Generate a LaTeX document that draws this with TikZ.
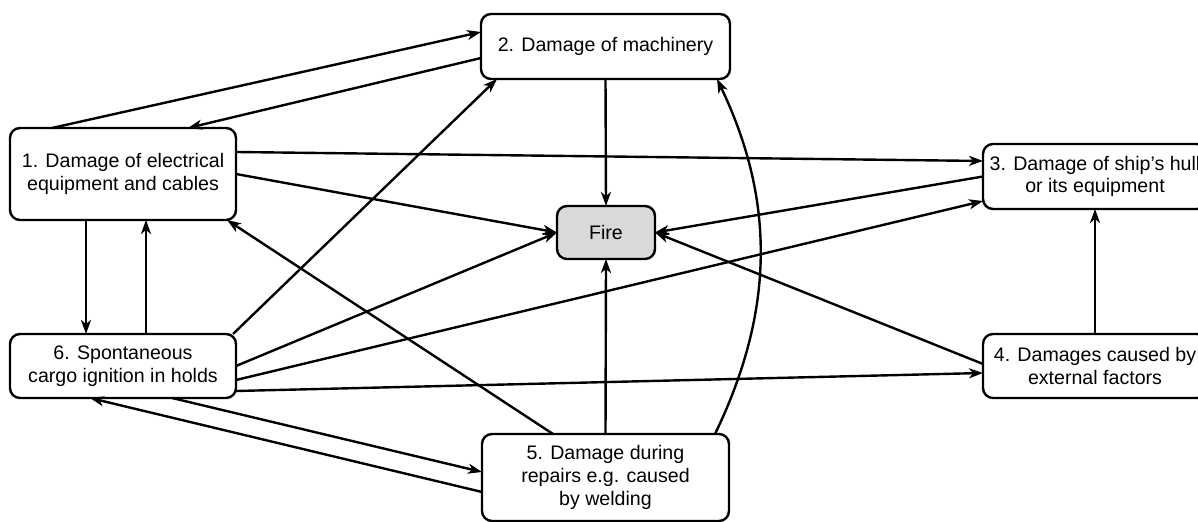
\documentclass[tikz,border=0pt]{standalone}
\usepackage{fontspec}
\setmainfont{Liberation Sans}
\usepackage{tikz}
\usetikzlibrary{arrows.meta}
\definecolor{cinzafogo}{HTML}{D9D9D9}

\tikzset{
  caixa/.style={draw, line width=1.2pt, rounded corners=5pt, align=center,
    inner sep=0pt, outer sep=0pt, font=\fontsize{9.8}{11.4}\selectfont},
  seta/.style={line width=1.2pt, -{Stealth[length=7pt,width=5pt,inset=2pt]}}
}

\begin{document}
\begin{tikzpicture}[x=0.5pt, y=-0.5pt]
        \useasboundingbox (0,0) rectangle (1198,522);

        % Caixas
        \node[caixa, minimum width=113pt, minimum height=46pt] (elec) at (123,174)
          {1. Damage of electrical\\equipment and cables};
        \node[caixa, minimum width=124.5pt, minimum height=32.5pt] (mach) at (605.5,46.5)
          {2. Damage of machinery};
        \node[caixa, minimum width=112pt, minimum height=32.5pt] (hull) at (1095,176.5)
          {3. Damage of ship’s hull\\or its equipment};
        \node[caixa, minimum width=112pt, minimum height=32pt] (extf) at (1095,366)
          {4. Damages caused by\\external factors};
        \node[caixa, minimum width=123.5pt, minimum height=43.5pt] (weld) at (605.5,477.5)
          {5. Damage during\\repairs e.g. caused\\by welding};
        \node[caixa, minimum width=113pt, minimum height=32pt] (cargo) at (123,366)
          {6. Spontaneous\\cargo ignition in holds};
        \node[caixa, fill=cinzafogo, minimum width=49pt, minimum height=26.5pt] (fire) at (606,232.5)
          {Fire};

        % Setas para o fogo
        \draw[seta] (elec.east) -- (fire.west);
        \draw[seta] (mach.south) -- (fire.north);
        \draw[seta] (hull.west) -- (fire.east);
        \draw[seta] ([yshift=1pt]extf.west) -- (fire.east);
        \draw[seta] (weld.north) -- (fire.south);
        \draw[seta] (cargo.east) -- (fire.west);

        % Setas entre as caixas
        \draw[seta] ([xshift=21pt]elec.north west) -- ([yshift=7.25pt]mach.west);
        \draw[seta] ([yshift=-5.75pt]mach.west) -- ([xshift=89pt]elec.north west);
        \draw[seta] ([yshift=11pt]elec.east) -- ([yshift=7.75pt]hull.west);
        \draw[seta] ([xshift=38pt]elec.south west) -- ([xshift=38pt]cargo.north west);
        \draw[seta] ([xshift=68pt]cargo.north west) -- ([xshift=68pt]elec.south west);
        \draw[seta] ([xshift=-1.5pt]cargo.north east) -- ([xshift=8pt]mach.south west);
        \draw[seta] ([yshift=-7pt]cargo.east) -- ([yshift=-12.25pt]hull.west);
        \draw[seta] ([yshift=-12.5pt]cargo.east) -- ([yshift=-3.5pt]extf.west);
        \draw[seta] (extf.north) -- (hull.south);
        \draw[seta] ([xshift=81pt]cargo.south west) -- ([yshift=2.75pt]weld.west);
        \draw[seta] ([yshift=-7.25pt]weld.west) -- ([xshift=40pt]cargo.south west);
        \draw[seta] ([xshift=35.5pt]weld.north west) -- ([xshift=-4.5pt]elec.south east);
        \draw[seta] ([xshift=-7pt]weld.north east) .. controls (775,310) and (775,200) .. ([xshift=-6.5pt]mach.south east);
    \end{tikzpicture}
\end{document}
